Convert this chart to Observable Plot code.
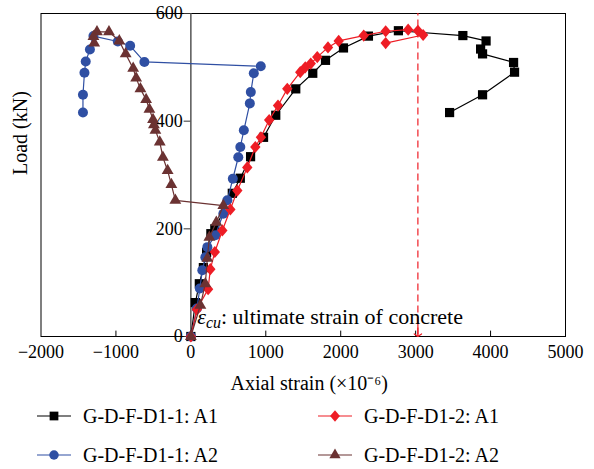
<!DOCTYPE html>
<html><head><meta charset="utf-8">
<script src="https://cdn.jsdelivr.net/npm/d3@7"></script>
<script src="https://cdn.jsdelivr.net/npm/@observablehq/plot@0.6"></script>
<style>
body{margin:0;background:#fff;font-family:"Liberation Serif",serif;}
#wrap{position:relative;width:594px;height:469px;overflow:hidden;}
.leg{position:absolute;display:flex;align-items:center;font-size:20px;color:#000;white-space:nowrap;line-height:20px;}
.leg svg{margin-right:12px;}
</style></head><body><div id="wrap"><div id="chart"></div></div>
<script>
// ---- data (axial strain ×10^-6, load kN) ----
const xTicks = [-2000, -1000, 0, 1000, 2000, 3000, 4000, 5000];
const yTicks = [0, 200, 400, 600];
const seriesNames = ["G-D-F-D1-1: A1", "G-D-F-D1-1: A2", "G-D-F-D1-2: A1", "G-D-F-D1-2: A2"];
const seriesColors = ["#000000", "#2f4fa3", "#ee1d25", "#6b3232"];

const d1_1_A1 = [[0,0],[60,63],[113,98],[167,128],[210,156],[267,191],[320,200],[553,266],[660,294],[797,334],[970,370],[1133,411],[1400,460],[1627,489],[1797,513],[2037,536],[2370,558],[2770,568],[3630,559],[3940,549],[3867,534],[3893,525],[4307,509],[4320,491],[3893,449],[3453,416]];
const d1_1_A2 = [[0,0],[80,52],[120,89],[153,123],[193,147],[220,166],[327,188],[433,228],[487,253],[560,293],[633,333],[660,352],[707,383],[787,433],[800,454],[840,489],[933,502],[-620,510],[-810,540],[-975,548],[-1300,558],[-1347,533],[-1403,511],[-1420,490],[-1440,449],[-1440,416]];
const d1_2_A1 = [[0,0],[80,50],[230,88],[260,125],[320,157],[420,197],[527,236],[620,271],[753,314],[860,352],[935,370],[1045,402],[1163,429],[1287,460],[1460,491],[1527,500],[1600,507],[1687,519],[1830,537],[1973,549],[2307,559],[2600,567],[2900,570],[3030,568],[3100,560],[2600,545]];
const d1_2_A2 = [[0,0],[127,58],[193,98],[220,145],[247,184],[340,212],[433,243],[-207,253],[-260,282],[-310,308],[-373,333],[-415,361],[-473,383],[-493,393],[-505,403],[-553,422],[-597,440],[-673,460],[-730,480],[-770,498],[-870,525],[-955,549],[-1093,566],[-1253,566],[-1300,557],[-1290,545]];

const ecu = 3030;            // ultimate strain of concrete
const noteAt = [85, 37];     // annotation anchor (strain, load)

// ---- custom diamond symbol ----
const diamondSym = {draw(ctx, size){ const r = Math.sqrt(size/2); ctx.moveTo(0,-r*1.08); ctx.lineTo(r*0.92,0); ctx.lineTo(0,r*1.08); ctx.lineTo(-r*0.92,0); ctx.closePath(); }};
const symbols = ["square", "circle", diamondSym, "triangle"];
const radii = [5.2, 5.0, 4.5, 4.4];
const allSeries = [d1_1_A1, d1_1_A2, d1_2_A1, d1_2_A2];

const fmt = d => d < 0 ? "\u2212" + Math.abs(d) : String(d);

const marks = [
  Plot.frame({stroke: "#000", strokeWidth: 1}),
  Plot.ruleX([0], {stroke: "#555", strokeWidth: 1.5}),
  Plot.ruleY(yTicks, {y: d => d, x1: -90, x2: 0, stroke: "#333"}),
  Plot.text(yTicks, {x: 0, y: d => d, text: d => String(d), textAnchor: "end", dx: -8, fontSize: 18}),
  Plot.ruleX(xTicks.slice(1, -1), {x: d => d, y1: 0, y2: 10, stroke: "#000"}),
  Plot.axisX({ticks: xTicks, tickSize: 0, tickPadding: 9, tickFormat: fmt, fontSize: 18, label: null}),
  Plot.text(["Axial strain (\u00d710\u207b\u2076)"], {frameAnchor: "bottom", dy: 53, dx: 6, text: d => d, fontSize: 20}),
  Plot.text(["Load (kN)"], {frameAnchor: "left", rotate: -90, dx: -20, text: d => d, fontSize: 20}),
  Plot.ruleX([ecu], {x: d => d, y1: 3, y2: 600, stroke: "#ee1d25", strokeDasharray: "7,4", strokeWidth: 1.2}),
  Plot.arrow([ecu], {x1: d => d, x2: d => d, y1: 25, y2: 0, stroke: "#ee1d25", headLength: 9, headAngle: 110, strokeWidth: 1.2}),
  Plot.text([noteAt], {x: d => d[0], y: d => d[1], text: () => "NOTE", textAnchor: "start", fontSize: 22})
];
allSeries.forEach((s, i) => {
  marks.push(Plot.line(s, {x: d => d[0], y: d => d[1], stroke: seriesColors[i], strokeWidth: 1.2}));
  marks.push(Plot.dot(s, {x: d => d[0], y: d => d[1], symbol: symbols[i], r: radii[i], fill: seriesColors[i], stroke: "none"}));
});

const chart = Plot.plot({
  width: 594, height: 400,
  marginLeft: 40.5, marginRight: 29, marginTop: 13, marginBottom: 64,
  x: {domain: [-2000, 5000]},
  y: {domain: [0, 600], axis: null},
  style: {fontFamily: "Liberation Serif", fontSize: "18px", color: "#000", background: "#fff", overflow: "visible"},
  marks
});
document.getElementById("chart").appendChild(chart);

// rich annotation text with italic epsilon and subscript
d3.select(chart).selectAll("text").filter(function(){ return this.textContent === "NOTE"; }).each(function(){
  const t = d3.select(this); t.text("");
  t.append("tspan").attr("font-style", "italic").text("\u03b5");
  t.append("tspan").attr("font-style", "italic").attr("font-size", "16px").attr("dy", "4").text("cu");
  t.append("tspan").attr("dy", "-4").text(": ultimate strain of concrete");
});

// legend
const wrap = document.getElementById("wrap");
const legPos = [[37, 406], [37, 445], [318, 406], [318, 445]];
[0, 1, 2, 3].forEach(i => {
  const div = document.createElement("div");
  div.className = "leg";
  div.style.left = legPos[i][0] + "px"; div.style.top = legPos[i][1] + "px";
  const sv = d3.create("svg").attr("width", 34).attr("height", 16);
  sv.append("line").attr("x1", 0).attr("x2", 34).attr("y1", 8).attr("y2", 8).attr("stroke", seriesColors[i]).attr("stroke-width", 1.2);
  const sym = typeof symbols[i] === "string" ? {square: d3.symbolSquare, circle: d3.symbolCircle, triangle: d3.symbolTriangle}[symbols[i]] : symbols[i];
  sv.append("path").attr("transform", "translate(17,8)").attr("d", d3.symbol(sym, Math.PI * radii[i] * radii[i] * 0.9)()).attr("fill", seriesColors[i]);
  div.appendChild(sv.node());
  const sp = document.createElement("span"); sp.textContent = seriesNames[i];
  div.appendChild(sp);
  wrap.appendChild(div);
});
</script></body></html>
